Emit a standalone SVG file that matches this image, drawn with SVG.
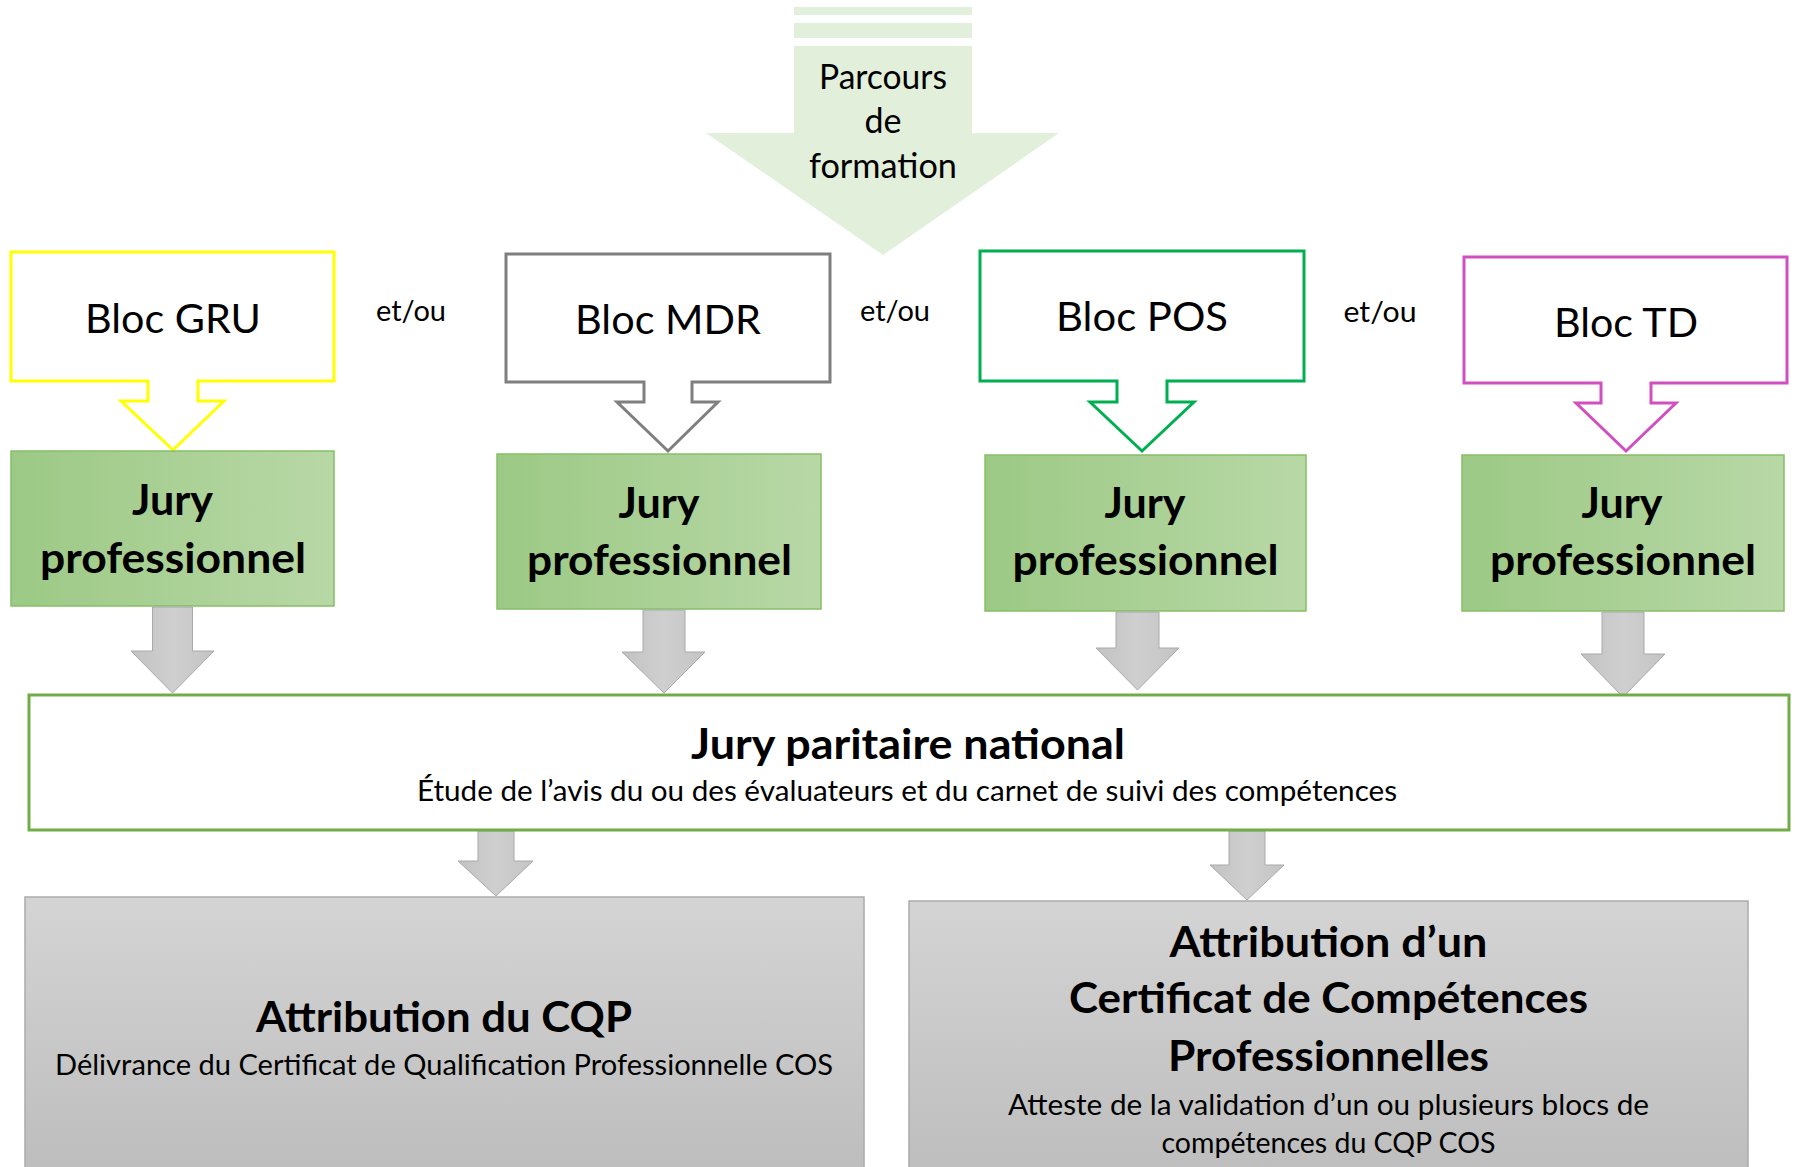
<svg xmlns="http://www.w3.org/2000/svg" width="1795" height="1167" viewBox="0 0 1795 1167">
<defs>
<linearGradient id="gJury" x1="0" y1="0" x2="1" y2="0">
<stop offset="0" stop-color="#9CC985"/>
<stop offset="1" stop-color="#B8D8A6"/>
</linearGradient>
<linearGradient id="gGray" x1="0" y1="0" x2="0" y2="1">
<stop offset="0" stop-color="#D4D4D4"/>
<stop offset="1" stop-color="#BCBCBC"/>
</linearGradient>
<linearGradient id="gArrow" x1="0" y1="0" x2="1" y2="0">
<stop offset="0" stop-color="#C2C2C2"/>
<stop offset="0.5" stop-color="#CFCFCF"/>
<stop offset="1" stop-color="#C4C4C4"/>
</linearGradient>
</defs>
<style>
text { font-family: Lato, "Open Sans", "Liberation Sans", sans-serif; fill: #000; text-anchor: middle; }
.bloc { font-size: 41.5px; }
.small { font-size: 28px; }
.bold { font-size: 42.5px; font-weight: bold; }
.parc { font-size: 35px; }
.callout { fill: #FFFFFF; stroke-width: 3; stroke-linejoin: miter; }
.jury { fill: url(#gJury); stroke: #86BE66; stroke-width: 1.5; }
.grey { fill: url(#gGray); stroke: #ABABAB; stroke-width: 1.5; }
.conn { fill: url(#gArrow); stroke: #A9A9A9; stroke-width: 1; }
</style>
<rect width="1795" height="1167" fill="#FFFFFF"/>

<g id="parcours">
<rect x="794" y="7" width="178" height="8" fill="#E2EFDA"/>
<rect x="794" y="23" width="178" height="15" fill="#E2EFDA"/>
<polygon points="794,46 972,46 972,133 1059,133 883,255 706,133 794,133" fill="#E2EFDA"/>
<text class="parc" x="883" y="89" textLength="128" lengthAdjust="spacingAndGlyphs">Parcours</text>
<text class="parc" x="883" y="133" textLength="37" lengthAdjust="spacingAndGlyphs">de</text>
<text class="parc" x="883" y="178" textLength="148" lengthAdjust="spacingAndGlyphs">formation</text>
</g>

<g id="bloc-gru">
<path class="callout" stroke="#FFFF00" d="M11,252 H334 V381 H198 V401 H224 L173,450 L121,401 H148 V381 H11 Z"/>
<text class="bloc" x="173" y="333" textLength="176" lengthAdjust="spacingAndGlyphs">Bloc GRU</text>
</g>
<g id="bloc-mdr">
<path class="callout" stroke="#7F7F7F" d="M506,254 H830 V382 H692 V402 H718 L668,451 L617,402 H644 V382 H506 Z"/>
<text class="bloc" x="668" y="334" textLength="186" lengthAdjust="spacingAndGlyphs">Bloc MDR</text>
</g>
<g id="bloc-pos">
<path class="callout" stroke="#00B050" d="M980,251 H1304 V381 H1167 V402 H1194 L1142,451 L1090,402 H1117 V381 H980 Z"/>
<text class="bloc" x="1142" y="331" textLength="172" lengthAdjust="spacingAndGlyphs">Bloc POS</text>
</g>
<g id="bloc-td">
<path class="callout" stroke="#D24FBF" d="M1464,257 H1787 V383 H1651 V403 H1676 L1626,451 L1576,403 H1601 V383 H1464 Z"/>
<text class="bloc" x="1626" y="337" textLength="144" lengthAdjust="spacingAndGlyphs">Bloc TD</text>
</g>

<g id="etou-labels">
<text class="small" x="411" y="321" textLength="70" lengthAdjust="spacingAndGlyphs">et/ou</text>
<text class="small" x="895" y="321" textLength="70" lengthAdjust="spacingAndGlyphs">et/ou</text>
<text class="small" x="1380" y="322" textLength="73" lengthAdjust="spacingAndGlyphs">et/ou</text>
</g>

<g id="jury-1">
<rect class="jury" x="11" y="451" width="323" height="155"/>
<text class="bold" x="172.5" y="515" textLength="81" lengthAdjust="spacingAndGlyphs">Jury</text>
<text class="bold" x="173" y="573" textLength="266" lengthAdjust="spacingAndGlyphs">professionnel</text>
</g>
<g id="jury-2">
<rect class="jury" x="497" y="454" width="324" height="155"/>
<text class="bold" x="659" y="518" textLength="81" lengthAdjust="spacingAndGlyphs">Jury</text>
<text class="bold" x="659.5" y="575" textLength="265" lengthAdjust="spacingAndGlyphs">professionnel</text>
</g>
<g id="jury-3">
<rect class="jury" x="985" y="455" width="321" height="156"/>
<text class="bold" x="1145" y="518" textLength="81" lengthAdjust="spacingAndGlyphs">Jury</text>
<text class="bold" x="1145.5" y="575" textLength="266" lengthAdjust="spacingAndGlyphs">professionnel</text>
</g>
<g id="jury-4">
<rect class="jury" x="1462" y="455" width="322" height="156"/>
<text class="bold" x="1622" y="518" textLength="81" lengthAdjust="spacingAndGlyphs">Jury</text>
<text class="bold" x="1623" y="575" textLength="266" lengthAdjust="spacingAndGlyphs">professionnel</text>
</g>

<g id="connectors">
<polygon class="conn" points="152.5,607 192.5,607 192.5,651 214,651 172.5,693 131,651 152.5,651"/>
<polygon class="conn" points="643,610 685,610 685,652 705,652 664,693 622,652 643,652"/>
<polygon class="conn" points="1116,612 1159,612 1159,648 1179,648 1137.5,690 1096,648 1116,648"/>
<polygon class="conn" points="1602,612 1644,612 1644,654 1665,654 1623,697 1581,654 1602,654"/>
<polygon class="conn" points="478,831 514,831 514,861 533,861 496,896 458,861 478,861"/>
<polygon class="conn" points="1229,831 1265,831 1265,865 1284,865 1247,900 1210,865 1229,865"/>
</g>

<g id="jury-paritaire">
<rect x="29" y="695" width="1760" height="135" fill="#FFFFFF" stroke="#70AD47" stroke-width="3"/>
<text class="bold" x="908" y="759" textLength="434" lengthAdjust="spacingAndGlyphs">Jury paritaire national</text>
<text class="small" x="907" y="801" textLength="980" lengthAdjust="spacingAndGlyphs">Étude de l’avis du ou des évaluateurs et du carnet de suivi des compétences</text>
</g>

<g id="attribution-cqp">
<rect class="grey" x="25" y="897" width="839" height="290"/>
<text class="bold" x="444" y="1032" textLength="376" lengthAdjust="spacingAndGlyphs">Attribution du CQP</text>
<text class="small" x="444" y="1075" textLength="778" lengthAdjust="spacingAndGlyphs">Délivrance du Certificat de Qualification Professionnelle COS</text>
</g>

<g id="attribution-ccp">
<rect class="grey" x="909" y="901" width="839" height="290"/>
<text class="bold" x="1328.5" y="957" textLength="318" lengthAdjust="spacingAndGlyphs">Attribution d’un</text>
<text class="bold" x="1328.5" y="1013" textLength="519" lengthAdjust="spacingAndGlyphs">Certificat de Compétences</text>
<text class="bold" x="1328.5" y="1071" textLength="321" lengthAdjust="spacingAndGlyphs">Professionnelles</text>
<text class="small" x="1328.5" y="1115" textLength="641" lengthAdjust="spacingAndGlyphs">Atteste de la validation d’un ou plusieurs blocs de</text>
<text class="small" x="1328.5" y="1153" textLength="334" lengthAdjust="spacingAndGlyphs">compétences du CQP COS</text>
</g>
</svg>
